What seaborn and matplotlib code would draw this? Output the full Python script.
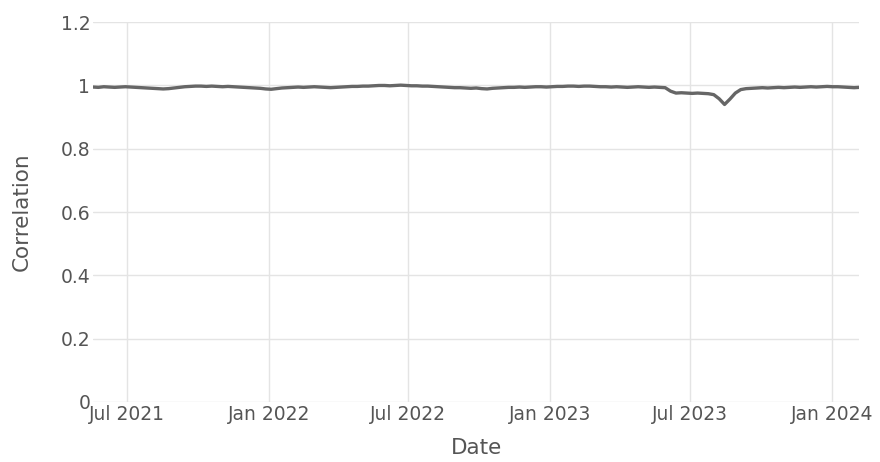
import matplotlib
matplotlib.use("Agg")
import matplotlib.pyplot as plt
import matplotlib.dates as mdates
import numpy as np
import pandas as pd
import seaborn as sns

# weekly rolling correlation
start_date = "2021-05-18"
corr = [
    0.995, 0.994, 0.996, 0.995, 0.994, 0.995, 0.996, 0.995, 0.994, 0.993,
    0.992, 0.991, 0.990, 0.989, 0.990, 0.992, 0.994,
    0.996, 0.997, 0.998, 0.998, 0.997, 0.998, 0.997, 0.996, 0.997, 0.996, 0.995,
    0.994, 0.993, 0.992, 0.991, 0.989, 0.988, 0.990,
    0.992, 0.993, 0.994, 0.995, 0.994, 0.995, 0.996, 0.995, 0.994, 0.993,
    0.994, 0.995, 0.996, 0.997, 0.997, 0.998, 0.998,
    0.999, 1.000, 1.000, 0.999, 1.000, 1.001, 1.000, 0.999, 0.999, 0.998, 0.998,
    0.997, 0.996, 0.995, 0.994, 0.993, 0.993, 0.992, 0.991, 0.992, 0.990,
    0.989, 0.991, 0.992,
    0.993, 0.994, 0.994, 0.995, 0.994, 0.995, 0.996, 0.996, 0.995, 0.996,
    0.997, 0.997, 0.998, 0.998, 0.997, 0.998, 0.998, 0.997, 0.996, 0.996,
    0.995, 0.996, 0.995, 0.994, 0.995, 0.996, 0.995, 0.994, 0.995, 0.994, 0.993,
    0.982, 0.976, 0.977, 0.976, 0.975, 0.976, 0.975, 0.974, 0.971,
    0.958, 0.940, 0.957, 0.976, 0.987, 0.990,
    0.991, 0.992, 0.993, 0.992, 0.993, 0.994, 0.993, 0.994, 0.995, 0.994,
    0.995, 0.996, 0.995, 0.996, 0.997, 0.996, 0.996, 0.995, 0.994, 0.993, 0.994,
]
y_ticks = [0, 0.2, 0.4, 0.6, 0.8, 1, 1.2]
y_tick_labels = ["0", "0.2", "0.4", "0.6", "0.8", "1", "1.2"]

df = pd.DataFrame({
    "Date": pd.date_range(start_date, periods=len(corr), freq="7D"),
    "Correlation": corr,
})

sns.set_theme(style="white")
plt.rcParams["font.family"] = ["DejaVu Sans"]

fig = plt.figure(figsize=(8.8, 4.62), dpi=100)
ax = fig.add_axes([0.1057, 0.130, 0.871, 0.822])

sns.lineplot(data=df, x="Date", y="Correlation", ax=ax,
             color="#666666", linewidth=2.4)

ax.set_ylim(0, 1.2)
ax.set_xlim(df["Date"].min(), df["Date"].max())
ax.set_yticks(y_ticks)
ax.set_yticklabels(y_tick_labels)

ax.xaxis.set_major_locator(mdates.MonthLocator(bymonth=[1, 7]))
ax.xaxis.set_major_formatter(mdates.DateFormatter("%b %Y"))

ax.grid(True, color="#e4e4e4", linewidth=1)
ax.set_axisbelow(True)
for s in ax.spines.values():
    s.set_visible(False)
ax.tick_params(axis="both", length=0, labelsize=13.5, colors="#555555")
ax.tick_params(axis="x", pad=2)
ax.tick_params(axis="y", pad=2)

ax.set_xlabel("Date", fontsize=15.5, color="#555555", labelpad=10)
ax.set_ylabel("Correlation", fontsize=15.5, color="#555555", labelpad=21)

fig.savefig("out.png", dpi=100, facecolor="white")
